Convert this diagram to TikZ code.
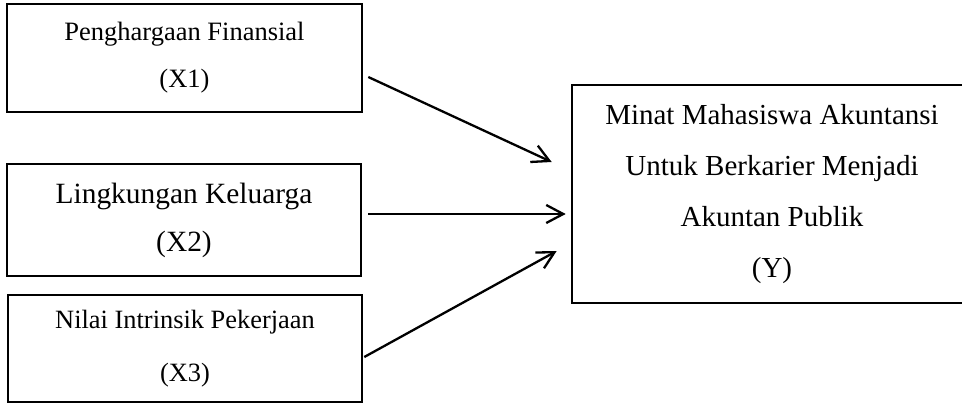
\documentclass[tikz,border=0pt]{standalone}
\usepackage{fontspec}
\setmainfont{Liberation Serif}
\usetikzlibrary{arrows.meta}
\begin{document}
\begin{tikzpicture}[x=1pt,y=-1pt,
  box/.style={draw=black, line width=2.6pt, rectangle, inner sep=0pt, align=center},
  arr/.style={line width=2.3pt, -{Straight Barb[length=17pt,width=18pt,line width=2.3pt]}}]
\useasboundingbox (0,0) rectangle (962,405);
\node[box, minimum width=355pt, minimum height=108pt, font=\fontsize{26.5}{47}\selectfont] (x1) at (184.5,58) {Penghargaan Finansial\\(X1)};
\node[box, minimum width=354pt, minimum height=112pt, font=\fontsize{29.4}{48}\selectfont] (x2) at (184,220) {Lingkungan Keluarga\\(X2)};
\node[box, minimum width=354pt, minimum height=107pt, font=\fontsize{26.4}{53}\selectfont] (x3) at (185,348.5) {Nilai Intrinsik Pekerjaan\\(X3)};
\node[box, minimum width=400pt, minimum height=218pt, font=\fontsize{29}{50.7}\selectfont] (y) at (772,194) {Minat Mahasiswa Akuntansi\\Untuk Berkarier Menjadi\\Akuntan Publik\\(Y)};
\draw[arr] ([shift={(5,19)}]x1.east) -- ([shift={(-19,-32)}]y.west);
\draw[arr] ([shift={(6,-6)}]x2.east) -- ([shift={(-5,20)}]y.west);
\draw[arr] ([shift={(1,8.5)}]x3.east) -- ([shift={(-14,57)}]y.west);
\end{tikzpicture}
\end{document}
